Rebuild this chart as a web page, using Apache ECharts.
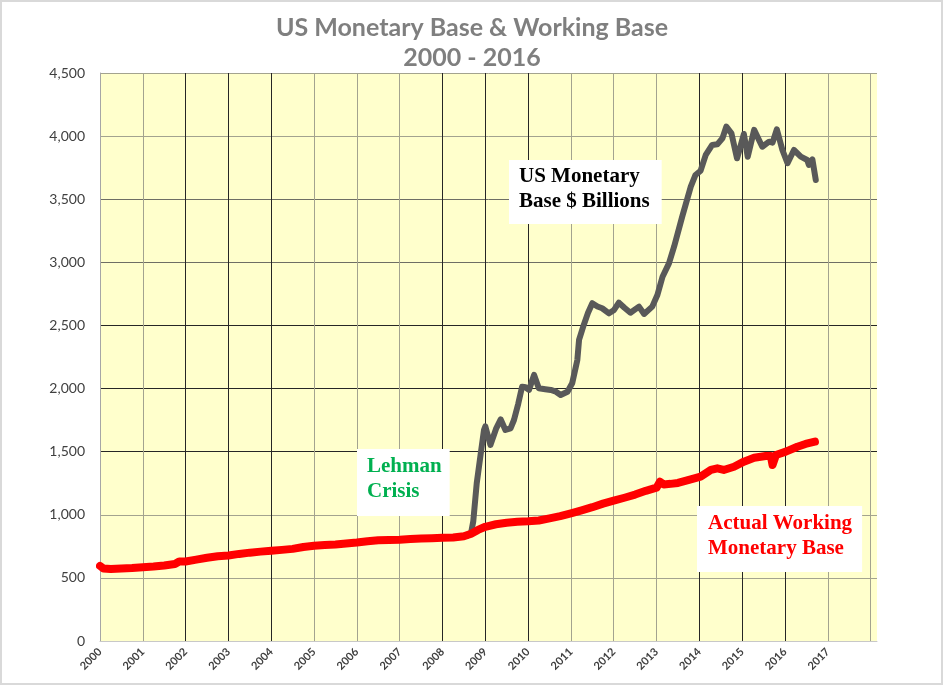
<!DOCTYPE html>
<html>
<head>
<meta charset="utf-8">
<script src="https://cdn.jsdelivr.net/npm/echarts@6/dist/echarts.min.js"></script>
<style>html,body{margin:0;padding:0;background:#fff}#c{width:944px;height:686px}</style>
</head>
<body>
<div id="c"></div>
<script>
// ---- Data ----
const workingDates = [2000.0, 2000.08, 2000.25, 2000.5, 2000.75, 2001.0, 2001.25, 2001.5, 2001.75, 2001.85, 2002.0, 2002.25, 2002.5, 2002.75, 2003.0, 2003.25, 2003.5, 2003.75, 2004.0, 2004.25, 2004.5, 2004.75, 2005.0, 2005.25, 2005.5, 2005.75, 2006.0, 2006.25, 2006.5, 2006.75, 2007.0, 2007.25, 2007.5, 2007.75, 2008.0, 2008.25, 2008.5, 2008.67, 2008.83, 2009.0, 2009.25, 2009.5, 2009.75, 2010.0, 2010.25, 2010.5, 2010.75, 2011.0, 2011.25, 2011.5, 2011.75, 2012.0, 2012.25, 2012.5, 2012.75, 2013.0, 2013.08, 2013.17, 2013.33, 2013.5, 2013.8, 2014.03, 2014.27, 2014.42, 2014.57, 2014.81, 2015.04, 2015.28, 2015.55, 2015.67, 2015.71, 2015.79, 2016.02, 2016.29, 2016.48, 2016.7];
const workingValues = [595, 575, 570, 575, 578, 585, 590, 598, 610, 630, 630, 645, 660, 672, 678, 690, 700, 708, 715, 722, 730, 745, 755, 760, 765, 772, 780, 790, 798, 800, 803, 808, 812, 815, 818, 820, 830, 850, 880, 905, 925, 937, 945, 948, 955, 972, 990, 1012, 1035, 1060, 1088, 1112, 1135, 1160, 1190, 1215, 1262, 1240, 1245, 1252, 1281, 1302, 1355, 1368, 1355, 1381, 1421, 1452, 1466, 1466, 1394, 1474, 1500, 1539, 1561, 1579];

const baseDates = [2008.58, 2008.67, 2008.72, 2008.8, 2008.9, 2008.97, 2009.0, 2009.12, 2009.25, 2009.36, 2009.47, 2009.59, 2009.67, 2009.77, 2009.86, 2009.94, 2010.02, 2010.14, 2010.25, 2010.4, 2010.53, 2010.65, 2010.76, 2010.92, 2011.03, 2011.15, 2011.19, 2011.3, 2011.4, 2011.5, 2011.62, 2011.73, 2011.89, 2012.0, 2012.12, 2012.25, 2012.39, 2012.59, 2012.71, 2012.9, 2013.02, 2013.14, 2013.29, 2013.41, 2013.6, 2013.8, 2013.91, 2014.03, 2014.15, 2014.3, 2014.42, 2014.54, 2014.63, 2014.75, 2014.88, 2014.98, 2015.04, 2015.13, 2015.28, 2015.47, 2015.63, 2015.71, 2015.81, 2015.94, 2016.06, 2016.21, 2016.37, 2016.52, 2016.56, 2016.64, 2016.72];
const baseValues = [835, 860, 950, 1250, 1500, 1672, 1700, 1553, 1680, 1756, 1672, 1685, 1751, 1880, 2015, 2010, 1989, 2108, 2002, 1995, 1989, 1975, 1949, 1975, 2042, 2226, 2385, 2504, 2600, 2676, 2650, 2636, 2596, 2620, 2681, 2640, 2601, 2649, 2591, 2649, 2741, 2886, 2992, 3124, 3362, 3600, 3692, 3726, 3851, 3930, 3935, 3983, 4075, 4022, 3824, 3943, 4017, 3837, 4049, 3916, 3956, 3948, 4054, 3890, 3785, 3890, 3837, 3811, 3771, 3816, 3652];

const yearTicks = [2000, 2001, 2002, 2003, 2004, 2005, 2006, 2007, 2008, 2009, 2010, 2011, 2012, 2013, 2014, 2015, 2016, 2017];

const titleLines = ['US Monetary Base & Working Base', '2000 - 2016'];

// ---- Build ----
const pair = (xs, ys) => xs.map((x, i) => [x, ys[i]]);
const B = '#262626', G = '#a3a38f', M = '#6e6e64';
const vColors = [G, G, B, B, B, G, G, G, B, B, B, G, G, G, B, B, B, G, G, G];
const hColors = [G, G, G, B, B, B, M, M, G, G];

const chart = echarts.init(document.getElementById('c'), null, {renderer: 'canvas'});
chart.setOption({
  animation: false,
  backgroundColor: '#ffffff',
  title: {
    text: titleLines.join('\n'),
    left: 'center',
    top: 8,
    textStyle: {fontFamily: 'Lato', fontWeight: 'bold', fontSize: 25, lineHeight: 30, color: '#7f7f7f'}
  },
  grid: {left: 100, right: 67, top: 73, bottom: 45, show: true, backgroundColor: '#ffffcc', borderWidth: 0},
  xAxis: {
    type: 'value', min: 2000, max: 2018.15, interval: 1,
    axisLine: {show: true, lineStyle: {color: '#c8c8c8', width: 1}},
    axisTick: {show: false},
    axisLabel: {
      rotate: 45, margin: 9, fontFamily: 'Lato', fontWeight: 'bold', fontSize: 11, color: '#404040',
      showMaxLabel: false,
      formatter: v => yearTicks.indexOf(v) >= 0 ? String(v) : ''
    },
    splitLine: {show: true, showMaxLine: false, lineStyle: {color: vColors, width: 1}}
  },
  yAxis: {
    type: 'value', min: 0, max: 4500, interval: 500,
    axisLine: {show: true, lineStyle: {color: '#a6a6a6', width: 1}},
    axisTick: {show: false},
    axisLabel: {
      margin: 15, fontFamily: 'Lato', fontSize: 14, color: '#404040',
      formatter: v => v.toLocaleString('en-US')
    },
    splitLine: {show: true, lineStyle: {color: hColors, width: 1}}
  },
  series: [
    {
      name: 'US Monetary Base', type: 'line', data: pair(baseDates, baseValues),
      showSymbol: false, symbol: 'none', smooth: false,
      lineStyle: {color: '#595959', width: 6, cap: 'round', join: 'round'}, z: 3
    },
    {
      name: 'Actual Working Monetary Base', type: 'line', data: pair(workingDates, workingValues),
      showSymbol: false, symbol: 'none', smooth: false,
      lineStyle: {color: '#ff0000', width: 8, cap: 'round', join: 'round'}, z: 4
    }
  ],
  graphic: [
    {type: 'rect', shape: {x: 1, y: 1, width: 941, height: 683}, style: {fill: 'none', stroke: '#d9d9d9', lineWidth: 2}, silent: true, z: 100},
    {type: 'text', x: 509, y: 160, z: 50, style: {
      text: 'US Monetary\nBase $ Billions', fill: '#000000', fontFamily: 'Liberation Serif', fontWeight: 'bold', fontSize: 21,
      lineHeight: 25, backgroundColor: '#ffffff', padding: [4, 12, 10, 10]}},
    {type: 'text', x: 357, y: 449, z: 50, style: {
      text: 'Lehman\nCrisis', fill: '#00b050', fontFamily: 'Liberation Serif', fontWeight: 'bold', fontSize: 21,
      lineHeight: 25, backgroundColor: '#ffffff', padding: [5, 8, 12, 10]}},
    {type: 'text', x: 697, y: 506, z: 50, style: {
      text: 'Actual Working\nMonetary Base', fill: '#ff0000', fontFamily: 'Liberation Serif', fontWeight: 'bold', fontSize: 21,
      lineHeight: 25, backgroundColor: '#ffffff', padding: [5, 10, 11, 11]}}
  ]
});
</script>
</body>
</html>
